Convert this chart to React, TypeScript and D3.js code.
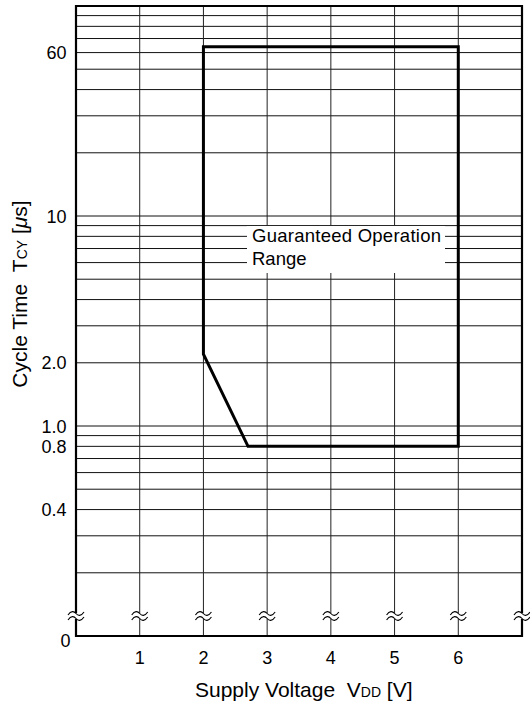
import React from "react";
import * as d3 from "d3";

// supply voltage axis
const xTickValues = [1, 2, 3, 4, 5, 6];
// cycle time axis (log), labelled ticks
const yTickValues = [60, 10, 2, 1, 0.8, 0.4];
const yTickText = ["60", "10", "2.0", "1.0", "0.8", "0.4"];
// guaranteed operation range outline
const rangeVdd = [2, 6, 6, 2.7, 2];
const rangeTcy = [64, 64, 0.8, 0.8, 2.2];

const W = 530, H = 708;
const FONT = "'Liberation Sans', Arial, Helvetica, sans-serif";

export default function App() {
  const x = d3.scaleLinear().domain([0, 7]).range([76, 522]);
  const y = d3.scaleLog().domain([0.1, 100]).range([636, 6]);

  const x0 = x(0), x1 = x(7);
  const yTop = y(100), yBot = y(0.1);
  const yBreak = yBot - 20;

  // minor grid on every decade step except the frame edges
  const gridY = y.ticks().filter(v => v > 0.1 + 1e-9 && v < 100 - 1e-9);

  const pts: [number, number][] = rangeVdd.map((v, i) => [x(v), y(rangeTcy[i])]);
  const rangePath = d3.line()(pts) + "Z";

  // break mark (≈) drawn on each vertical line
  const wave = "M-8,1.5 C-5,-3 -2,-2.5 0,0 S5,3 8,-1.5";
  const breakXs = [0, ...xTickValues, 7].map(v => x(v));

  return (
    <div style={{ position: "absolute", left: 0, top: 0 }}>
      <svg width={W} height={H} style={{ display: "block", background: "#fff" }}>
        {/* horizontal grid */}
        {gridY.map((v, i) => (
          <line key={"h" + i} x1={x0} x2={x1} y1={y(v)} y2={y(v)} stroke="#111" strokeWidth={1} />
        ))}
        {/* vertical grid */}
        {xTickValues.map(v => (
          <line key={"v" + v} x1={x(v)} x2={x(v)} y1={yTop} y2={yBot} stroke="#222" strokeWidth={1} />
        ))}

        {/* label box hiding the grid */}
        <rect x={247} y={226} width={198} height={47} fill="#fff" />
        <text x={252} y={242} fontFamily={FONT} fontSize={18.5} textLength={189} lengthAdjust="spacing">Guaranteed Operation</text>
        <text x={252} y={265} fontFamily={FONT} fontSize={18.5}>Range</text>

        {/* frame */}
        <path d={`M${x0},${yBot} V${yTop} H${x1} V${yBot} Z`} fill="none" stroke="#000" strokeWidth={2.2} />

        {/* range outline */}
        <path d={rangePath} fill="none" stroke="#000" strokeWidth={3} strokeLinejoin="miter" />

        {/* axis break marks */}
        {breakXs.map((bx, i) => (
          <g key={"b" + i} transform={`translate(${bx},${yBreak})`}>
            <rect x={-3} y={-3} width={6} height={6} fill="#fff" />
            <path d={wave} transform="translate(0,-2.5)" fill="none" stroke="#000" strokeWidth={1.1} />
            <path d={wave} transform="translate(0,2.5)" fill="none" stroke="#000" strokeWidth={1.1} />
          </g>
        ))}

        {/* y tick labels */}
        {yTickValues.map((v, i) => (
          <text key={"yt" + i} x={66.5} y={y(v) + 6.5} textAnchor="end" fontFamily={FONT} fontSize={18}>{yTickText[i]}</text>
        ))}
        <text x={70.5} y={yBot + 11} textAnchor="end" fontFamily={FONT} fontSize={18}>0</text>

        {/* x tick labels */}
        {xTickValues.map(v => (
          <text key={"xt" + v} x={x(v)} y={664} textAnchor="middle" fontFamily={FONT} fontSize={18}>{v}</text>
        ))}

        {/* axis titles */}
        <text x={195} y={697} fontFamily={FONT} fontSize={21}>
          Supply Voltage{"\u00a0\u00a0"}V<tspan fontSize={14}>DD</tspan> [V]
        </text>
        <text transform="translate(27,294) rotate(-90)" textAnchor="middle" fontFamily={FONT} fontSize={21}>
          Cycle Time{"\u00a0\u00a0"}T<tspan fontSize={14}>CY</tspan> [<tspan fontStyle="italic">μ</tspan>s]
        </text>
      </svg>
    </div>
  );
}
